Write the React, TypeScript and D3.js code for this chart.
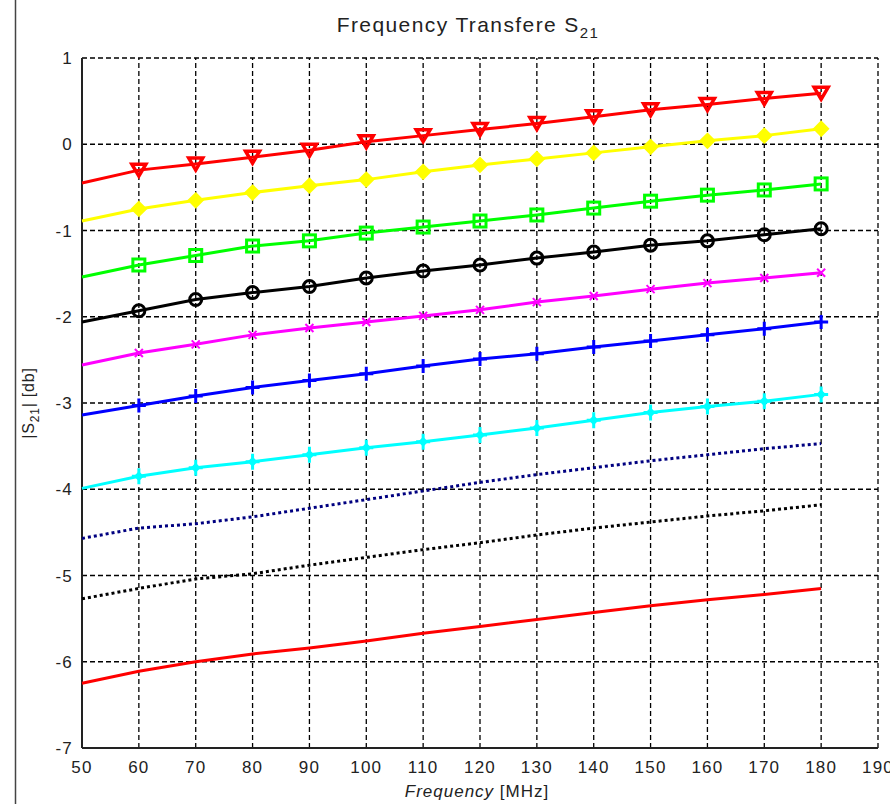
import * as d3 from 'd3';

const freqs = [50, 60, 70, 80, 90, 100, 110, 120, 130, 140, 150, 160, 170, 180];
const xTicks = [50, 60, 70, 80, 90, 100, 110, 120, 130, 140, 150, 160, 170, 180, 190];
const yTicks = [1, 0, -1, -2, -3, -4, -5, -6, -7];

const redTri = [-0.45, -0.30, -0.23, -0.15, -0.07, 0.03, 0.10, 0.17, 0.24, 0.32, 0.40, 0.46, 0.53, 0.59];
const yellowDia = [-0.89, -0.75, -0.65, -0.56, -0.48, -0.41, -0.32, -0.24, -0.17, -0.10, -0.03, 0.04, 0.10, 0.18];
const greenSq = [-1.54, -1.40, -1.29, -1.18, -1.12, -1.03, -0.96, -0.89, -0.82, -0.74, -0.66, -0.59, -0.53, -0.46];
const blackCirc = [-2.06, -1.93, -1.80, -1.72, -1.65, -1.55, -1.47, -1.40, -1.32, -1.25, -1.17, -1.12, -1.05, -0.98];
const magentaX = [-2.56, -2.42, -2.32, -2.21, -2.13, -2.06, -1.99, -1.92, -1.83, -1.76, -1.68, -1.61, -1.55, -1.49];
const bluePlus = [-3.14, -3.03, -2.92, -2.82, -2.74, -2.66, -2.57, -2.49, -2.43, -2.35, -2.28, -2.21, -2.14, -2.06];
const cyanStar = [-3.99, -3.85, -3.75, -3.68, -3.60, -3.52, -3.45, -3.37, -3.29, -3.20, -3.11, -3.04, -2.98, -2.90];
const navyDot = [-4.57, -4.45, -4.40, -4.32, -4.22, -4.12, -4.02, -3.92, -3.83, -3.75, -3.67, -3.60, -3.53, -3.47];
const blackDot = [-5.27, -5.15, -5.04, -4.98, -4.88, -4.79, -4.70, -4.62, -4.53, -4.45, -4.38, -4.31, -4.25, -4.18];
const redLow = [-6.25, -6.11, -6.00, -5.91, -5.84, -5.76, -5.67, -5.59, -5.51, -5.43, -5.35, -5.28, -5.22, -5.15];

type Marker = 'tri' | 'dia' | 'sq' | 'circ' | 'x' | 'plus' | 'star' | 'none';

const series: { values: number[]; color: string; marker: Marker; dotted?: boolean }[] = [
  { values: redTri, color: '#ff0000', marker: 'tri' },
  { values: yellowDia, color: '#ffff00', marker: 'dia' },
  { values: greenSq, color: '#00ff00', marker: 'sq' },
  { values: blackCirc, color: '#000000', marker: 'circ' },
  { values: magentaX, color: '#ff00ff', marker: 'x' },
  { values: bluePlus, color: '#0000ff', marker: 'plus' },
  { values: cyanStar, color: '#00ffff', marker: 'star' },
  { values: navyDot, color: '#000080', marker: 'none', dotted: true },
  { values: blackDot, color: '#000000', marker: 'none', dotted: true },
  { values: redLow, color: '#ff0000', marker: 'none' },
];

const W = 890;
const H = 804;
const margin = { left: 82, right: 12, top: 58, bottom: 56 };

function MarkerShape({ kind, cx, cy, color }: { kind: Marker; cx: number; cy: number; color: string }) {
  switch (kind) {
    case 'tri':
      return <path d={`M${cx - 7},${cy - 6}L${cx + 7},${cy - 6}L${cx},${cy + 6}Z`} fill="none" stroke={color} strokeWidth={3.5} />;
    case 'dia':
      return <path d={`M${cx},${cy - 7}L${cx + 7},${cy}L${cx},${cy + 7}L${cx - 7},${cy}Z`} fill={color} stroke={color} strokeWidth={2} />;
    case 'sq':
      return <rect x={cx - 6} y={cy - 6} width={12} height={12} fill="none" stroke={color} strokeWidth={3} />;
    case 'circ':
      return <circle cx={cx} cy={cy} r={6} fill="none" stroke={color} strokeWidth={3} />;
    case 'x':
      return <path d={`M${cx - 4},${cy - 4}L${cx + 4},${cy + 4}M${cx - 4},${cy + 4}L${cx + 4},${cy - 4}`} stroke={color} strokeWidth={2} />;
    case 'plus':
      return <path d={`M${cx - 7},${cy}L${cx + 7},${cy}M${cx},${cy - 7}L${cx},${cy + 7}`} stroke={color} strokeWidth={3} />;
    case 'star':
      return (
        <g>
          <path d={`M${cx - 7},${cy}L${cx + 7},${cy}M${cx},${cy - 8}L${cx},${cy + 8}`} stroke={color} strokeWidth={3} />
          <path d={`M${cx},${cy - 5}L${cx + 5},${cy}L${cx},${cy + 5}L${cx - 5},${cy}Z`} fill={color} />
        </g>
      );
    default:
      return null;
  }
}

export default function App() {
  const x = d3.scaleLinear().domain([50, 190]).range([margin.left, W - margin.right]);
  const y = d3.scaleLinear().domain([-7, 1]).range([H - margin.bottom, margin.top]);
  const line = d3.line<number>().x((_, i) => x(freqs[i])).y(d => y(d));
  const font = '"Liberation Sans", Arial, sans-serif';

  return (
    <div style={{ position: 'fixed', left: 0, top: 0 }}>
      <svg width={W} height={H} style={{ display: 'block', background: '#fff' }} fontFamily={font}>
        {/* figure frame on the left */}
        <line x1={15.5} x2={15.5} y1={0} y2={H} stroke="#444" strokeWidth={1.5} />

        {/* grid */}
        <g stroke="#000" strokeWidth={1.3} strokeDasharray="5,3">
          {xTicks.slice(1).map(t => (
            <line key={'gx' + t} x1={x(t)} x2={x(t)} y1={y(-7)} y2={y(1)} />
          ))}
          {yTicks.slice(0, -1).map(t => (
            <line key={'gy' + t} x1={x(50)} x2={x(190)} y1={y(t)} y2={y(t)} />
          ))}
        </g>

        {/* axes */}
        <line x1={x(50)} x2={x(50)} y1={y(-7)} y2={y(1)} stroke="#222" strokeWidth={2} />
        <line x1={x(50)} x2={x(190)} y1={y(-7)} y2={y(-7)} stroke="#222" strokeWidth={2} />

        {/* series */}
        {series.map((s, i) => (
          <g key={'s' + i}>
            <path
              d={line(s.values) ?? ''}
              fill="none"
              stroke={s.color}
              strokeWidth={3}
              strokeDasharray={s.dotted ? '3,3' : undefined}
            />
            {s.marker !== 'none' &&
              s.values.slice(1).map((v, j) => (
                <MarkerShape key={j} kind={s.marker} cx={x(freqs[j + 1])} cy={y(v)} color={s.color} />
              ))}
          </g>
        ))}

        {/* tick labels */}
        <g fontSize={17} fill="#222" letterSpacing={1.2}>
          {yTicks.map(t => (
            <text key={'ty' + t} x={x(50) - 9} y={y(t)} dy="0.36em" textAnchor="end">
              {t}
            </text>
          ))}
          {xTicks.map(t => (
            <text key={'tx' + t} x={x(t)} y={773} textAnchor="middle">
              {t}
            </text>
          ))}
        </g>

        {/* title */}
        <text x={468} y={32} fontSize={21} textAnchor="middle" fill="#222" letterSpacing={1.4}>
          Frequency Transfere S
          <tspan dy={6} fontSize={15}>21</tspan>
        </text>

        {/* axis labels */}
        <text x={477} y={797} fontSize={17} textAnchor="middle" fill="#222" letterSpacing={1}>
          <tspan fontStyle="italic">Frequency</tspan> [MHz]
        </text>
        <text transform={`translate(34,${(y(1) + y(-7)) / 2}) rotate(-90)`} fontSize={16} textAnchor="middle" fill="#222" letterSpacing={0.8}>
          |S<tspan dy={5} fontSize={12}>21</tspan>
          <tspan dy={-5}>| [db]</tspan>
        </text>
      </svg>
    </div>
  );
}
